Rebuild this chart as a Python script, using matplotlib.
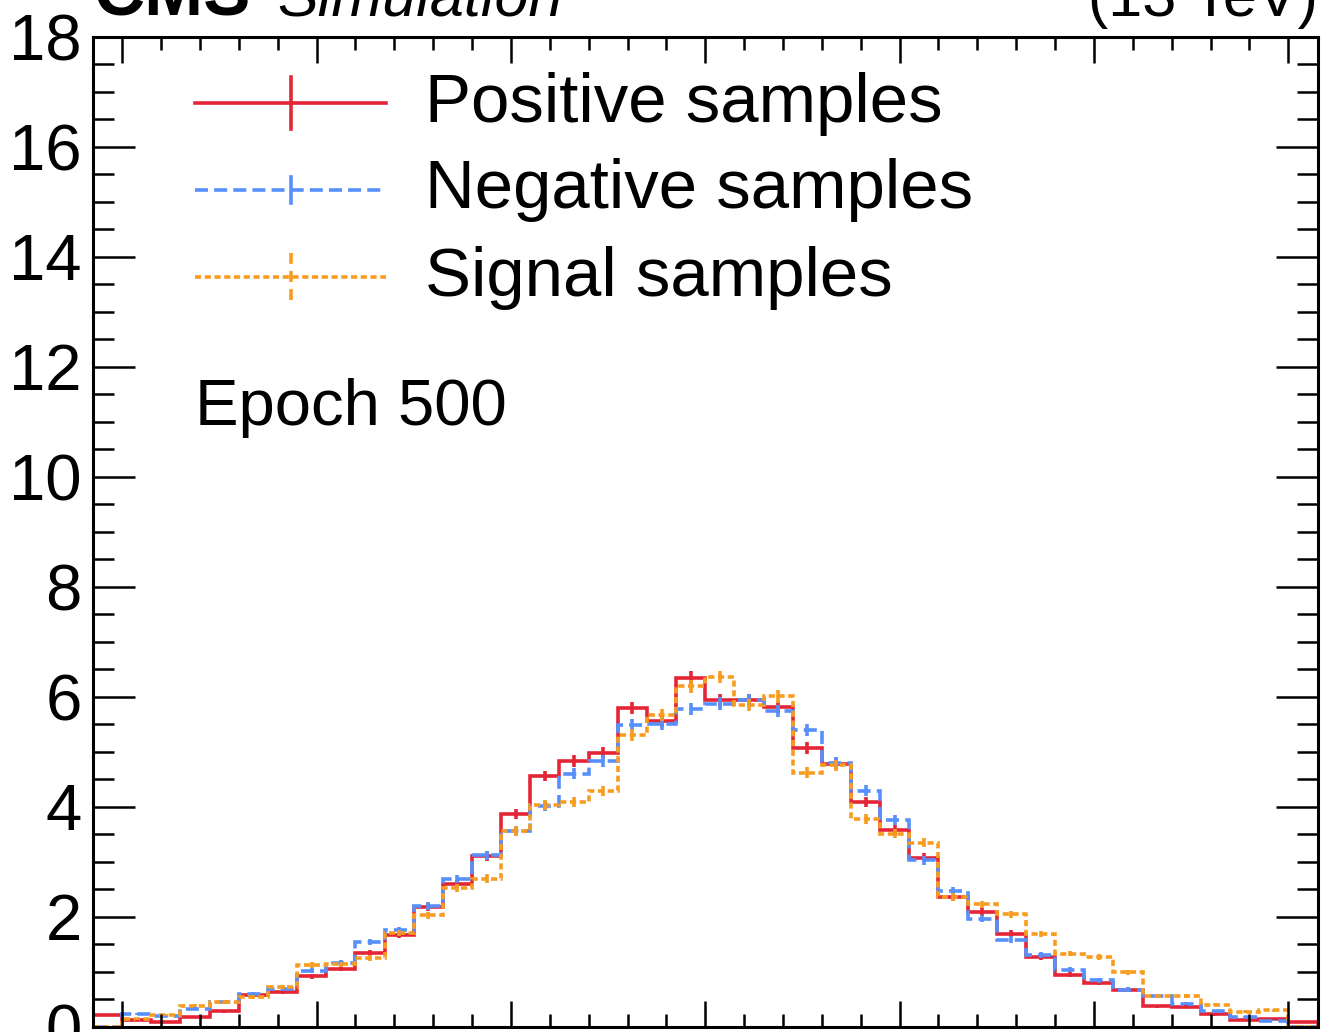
import numpy as np
import matplotlib
matplotlib.use("Agg")
import matplotlib.pyplot as plt

plt.rcParams['font.family'] = ['Liberation Sans', 'DejaVu Sans']

# 42 equal bins, first major tick sits on the second bin edge
edges = np.linspace(-0.15, 6.15, 43)

positive = [0.215, 0.118, 0.094, 0.179, 0.282, 0.573, 0.633, 0.918, 1.052, 1.342,
            1.664, 2.179, 2.591, 3.100, 3.864, 4.561, 4.833, 4.985, 5.803, 5.561,
            6.348, 5.936, 5.936, 5.815, 5.070, 4.785, 4.088, 3.573, 3.076, 2.361,
            2.088, 1.694, 1.270, 0.948, 0.800, 0.676, 0.373, 0.361, 0.225, 0.125,
            0.140, 0.088]
negative = [0.0, 0.227, 0.203, 0.330, 0.445, 0.591, 0.682, 1.015, 1.161, 1.542,
            1.755, 2.197, 2.682, 3.118, 3.561, 4.015, 4.603, 4.833, 5.482, 5.512,
            5.773, 5.876, 5.936, 5.742, 5.391, 4.803, 4.295, 3.755, 3.027, 2.470,
            1.967, 1.585, 1.300, 1.035, 0.845, 0.676, 0.563, 0.421, 0.285, 0.179,
            0.112, 0.0]
signal = [0.0, 0.142, 0.215, 0.379, 0.445, 0.542, 0.724, 1.124, 1.136, 1.255,
          1.706, 2.027, 2.530, 2.694, 3.561, 4.039, 4.088, 4.282, 5.300, 5.664,
          6.191, 6.361, 5.845, 6.009, 4.621, 4.755, 3.785, 3.512, 3.348, 2.361,
          2.224, 2.045, 1.682, 1.330, 1.270, 0.990, 0.555, 0.555, 0.403, 0.275,
          0.295, 0.0]

labels = ["Positive samples", "Negative samples", "Signal samples"]
colors = ["#e42536", "#5790fc", "#f89c20"]
styles = ["-", (0, (3.6, 1.7)), (0, (1.7, 1.0))]

# poisson-like stat. uncertainty on the normalised counts
err_scale = 0.046

W, H = 1321, 1032
fig = plt.figure(figsize=(W / 100, H / 100), dpi=100)
ax = fig.add_axes([93 / W, 5.3 / H, 1224.5 / W, 989.7 / H])

lw = 2.6
centers = 0.5 * (edges[1:] + edges[:-1])
for vals, col, ls in zip([positive, negative, signal], colors, styles):
    vals = np.array(vals)
    ax.stairs(vals, edges, color=col, lw=lw, linestyle=ls)
    ax.errorbar(centers, vals, yerr=err_scale * np.sqrt(vals), fmt='none',
                ecolor=col, elinewidth=lw, capsize=0)

ax.set_xlim(edges[0], edges[-1])
ax.set_ylim(0, 18)
ax.set_xticks(np.arange(0, 7, 1))
ax.set_xticks(np.arange(-0.0, 6.2, 0.2), minor=True)
ax.set_yticks(np.arange(0, 19, 2))
ax.set_yticks(np.arange(0, 18.1, 0.5), minor=True)

for s in ax.spines.values():
    s.set_linewidth(2.2)
ax.tick_params(which='both', direction='in', top=True, right=True, width=1.8)
ax.tick_params(axis='y', which='major', length=30, labelsize=47, pad=8)
ax.tick_params(axis='y', which='minor', length=15)
ax.tick_params(axis='x', which='major', length=18.7, labelbottom=False)
ax.tick_params(axis='x', which='minor', length=9.4)


# legend drawn by hand (pixel layout of the reference, converted to axes fraction)
def ax_x(px):
    return (px - 93) / 1224.5


def ax_y(py):
    return (1026.7 - py) / 989.7


bar_half = [26, 13, 24]
for i, (lab, col, ls, bh) in enumerate(zip(labels, colors, styles, bar_half)):
    yl = 102.5 + 87 * i
    ax.plot([ax_x(195), ax_x(386)], [ax_y(yl), ax_y(yl)], color=col, lw=lw,
            linestyle=ls, transform=ax.transAxes, clip_on=False)
    ax.plot([ax_x(290.5), ax_x(290.5)], [ax_y(yl - bh), ax_y(yl + bh)],
            color=col, lw=lw, linestyle='-' if i < 2 else (0, (3, 2)),
            transform=ax.transAxes, clip_on=False)
    ax.text(ax_x(425), ax_y(yl + 19), lab, transform=ax.transAxes,
            fontsize=49.7, ha='left', va='baseline')

ax.text(ax_x(195), ax_y(425), "Epoch 500", transform=ax.transAxes, fontsize=47,
        va='baseline', ha='left')

base = 1 - 16 / H
fig.text(93 / W, base, "CMS", fontsize=51, fontweight='bold', va='baseline')
fig.text(277 / W, base, "Simulation", fontsize=44, style='italic', va='baseline')
fig.text(1318 / W, base, "(13 TeV)", fontsize=44, ha='right', va='baseline')

fig.savefig("out.png", dpi=100)
